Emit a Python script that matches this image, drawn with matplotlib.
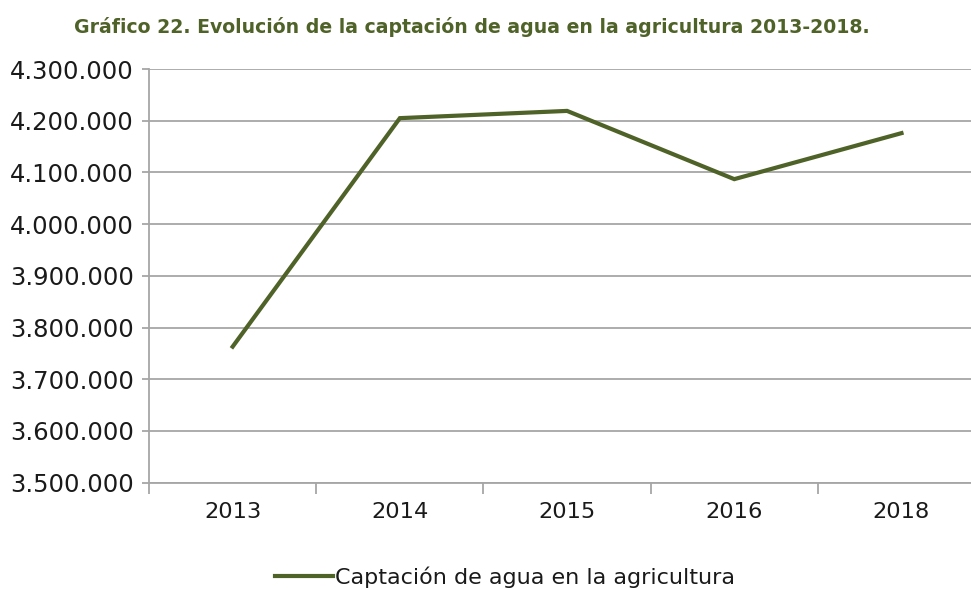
import matplotlib.pyplot as plt
from matplotlib.ticker import FuncFormatter, FixedLocator

# data
years = ['2013', '2014', '2015', '2016', '2018']
captacion = [3763000, 4205000, 4219000, 4087000, 4176000]

green = '#4F6228'
grid_col = '#A6A6A6'

fig = plt.figure(figsize=(9.71, 5.90), dpi=100)
ax = fig.add_axes([0.1535, 0.182, 0.861, 0.701])

x = list(range(len(years)))
ax.plot(x, captacion, color=green, linewidth=3, solid_joinstyle='miter',
        label='Captación de agua en la agricultura')

ax.set_xlim(-0.5, len(years) - 0.5)
ax.set_ylim(3500000, 4300000)
ax.set_yticks(range(3500000, 4300001, 100000))
ax.yaxis.set_major_formatter(FuncFormatter(lambda v, p: f'{int(v):,}'.replace(',', '.')))
ax.set_xticks(x)
ax.set_xticklabels(years)
ax.xaxis.set_minor_locator(FixedLocator([i + 0.5 for i in range(-1, len(years))]))

ax.grid(axis='y', color=grid_col, linewidth=1.3)
ax.set_axisbelow(True)
for s in ['top', 'right']:
    ax.spines[s].set_visible(False)
for s in ['left', 'bottom']:
    ax.spines[s].set_color(grid_col)
    ax.spines[s].set_linewidth(1.3)

ax.tick_params(axis='y', which='major', length=5, color=grid_col, width=1.3,
               labelsize=17.5, pad=6, labelcolor='#1a1a1a')
ax.tick_params(axis='x', which='major', length=0, labelsize=16.2, pad=14,
               labelcolor='#1a1a1a')
ax.tick_params(axis='x', which='minor', length=8, color=grid_col, width=1.3)

fig.text(0.486, 0.955, 'Gráfico 22. Evolución de la captación de agua en la agricultura 2013-2018.',
         ha='center', va='center', fontsize=13.6, fontweight='bold', color=green)

leg = fig.legend(loc='center', bbox_to_anchor=(0.52, 0.022), frameon=False,
                 fontsize=16, handlelength=2.6, handletextpad=0.1)
for t in leg.get_texts():
    t.set_color('#1a1a1a')

fig.savefig('out.png', dpi=100)
